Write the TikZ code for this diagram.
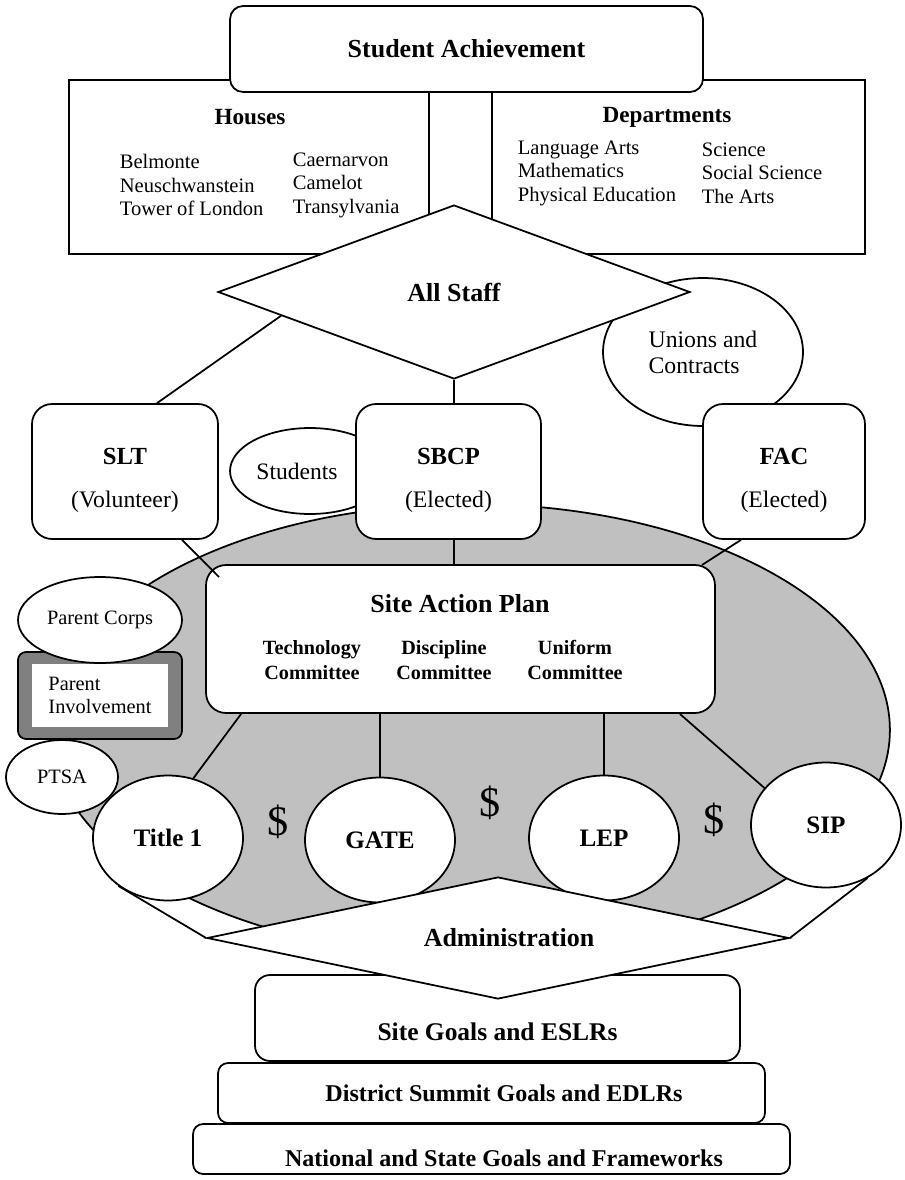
\documentclass[tikz,border=0pt]{standalone}
\usepackage{fontspec}
\setmainfont{Liberation Serif}
\usepackage{tikz}
\usetikzlibrary{shapes.geometric,calc}
\definecolor{plangray}{HTML}{C0C0C0}
\definecolor{parentgray}{HTML}{808080}

\begin{document}
\begin{tikzpicture}[x=0.02cm,y=-0.02cm,line width=1pt,
  box/.style={draw,fill=white,rounded corners=0.4cm,inner sep=0pt},
  plainbox/.style={draw,inner sep=0pt},
  oval/.style={draw,fill=white,ellipse,inner sep=0pt},
  bigfont/.style={font=\fontsize{14.8}{17.8}\selectfont\bfseries},
  headfont/.style={font=\fontsize{13.2}{16}\selectfont\bfseries},
  listfont/.style={font=\fontsize{11.7}{13.4}\selectfont,align=left,anchor=west,inner sep=0pt},
  teamfont/.style={font=\fontsize{13.5}{24.5}\selectfont,align=center},
  fundfont/.style={font=\fontsize{14.3}{17}\selectfont\bfseries},
  commfont/.style={font=\fontsize{11.5}{14.2}\selectfont\bfseries,align=center},
  smallfont/.style={font=\fontsize{11.6}{13.1}\selectfont},
  basefont/.style={font=\fontsize{13.7}{16.5}\selectfont\bfseries},
  dollarfont/.style={font=\fontsize{24}{28}\selectfont}]
  \useasboundingbox (0,0) rectangle (904,1180);
  \node[plainbox,minimum width=7.2cm,minimum height=3.48cm] (houses) at (249,167) {};
  \node[plainbox,minimum width=7.46cm,minimum height=3.48cm] (depts) at (678.5,167) {};
  \node[box,rounded corners=0.26cm,minimum width=9.46cm,minimum height=1.72cm,bigfont] (achieve) at (466.5,49) {Student Achievement};
  \node[headfont] (houseshead) at (250,117) {Houses};
  \node[listfont] (houses-l) at (119,185) {Belmonte\\Neuschwanstein\\Tower of London};
  \node[listfont] (houses-r) at (292,185) {Caernarvon\\Camelot\\Transylvania};
  \node[headfont] (deptshead) at (667,117) {Departments};
  \node[listfont] (depts-l) at (517,173) {Language Arts\\Mathematics\\Physical Education};
  \node[listfont] (depts-r) at (701,173) {Science\\Social Science\\The Arts};
  \node[oval,minimum width=4cm,minimum height=2.96cm,font=\fontsize{13.5}{14.8}\selectfont,align=left] (unions) at (703,352) {Unions and\\Contracts};
  \node[draw,fill=white,diamond,shape aspect=2.7,inner sep=0pt,minimum width=9.44cm,minimum height=3.48cm,bigfont] (staff) at (454,292) {All Staff};
  \node[oval,fill=plangray,minimum width=16.8cm,minimum height=9.04cm] (plan) at (470,730) {};
  \node[oval,minimum width=3.2cm,minimum height=1.72cm,font=\fontsize{13.4}{16}\selectfont] (students) at (310,471) {Students\hspace*{0.52cm}};
  \node[box,minimum width=3.72cm,minimum height=2.7cm,teamfont] (slt) at (125,471.5) {\rule{0pt}{19.5pt}{\fontsize{14}{24.5}\selectfont\bfseries SLT}\\(Volunteer)};
  \node[box,minimum width=3.7cm,minimum height=2.7cm,teamfont] (sbcp) at (448.5,471.5) {\rule{0pt}{19.5pt}{\fontsize{14}{24.5}\selectfont\bfseries SBCP}\\(Elected)};
  \node[box,minimum width=3.24cm,minimum height=2.7cm,teamfont] (fac) at (784,471.5) {\rule{0pt}{19.5pt}{\fontsize{14}{24.5}\selectfont\bfseries FAC}\\(Elected)};
  \draw ($(staff.west)!0.27!(staff.south)$) -- ([xshift=0.64cm]slt.north);
  \draw (staff.south) -- (staff.south |- sbcp.north);
  \node[box,minimum width=10.18cm,minimum height=2.96cm] (sap) at (460.5,639) {};
  \node[bigfont] (saptitle) at (460,604) {Site Action Plan};
  \foreach \nm/\word/\x in {tech/Technology/312,disc/Discipline/444,unif/Uniform/575}
    \node[commfont] (\nm) at (\x,660) {\word\\Committee};
  \coordinate (sap-in-l) at (219,577);
  \coordinate (sap-in-r) at (702,565);
  \draw ([xshift=1.14cm]slt.south) -- (sap-in-l);
  \draw (staff.south |- sbcp.south) -- (staff.south |- sap.north);
  \draw ([xshift=-0.86cm]fac.south) -- (sap-in-r);
  \node[draw,fill=parentgray,rounded corners=0.16cm,minimum width=3.28cm,minimum height=1.74cm] (involve) at (100,695.5) {};
  \node[fill=white,minimum width=2.72cm,minimum height=1.26cm,inner sep=0pt,smallfont,align=left] (involve-in) at (100,695.5) {Parent\\Involvement};
  \node[oval,minimum width=3.28cm,minimum height=1.72cm,smallfont] (corps) at (100,620) {Parent Corps};
  \node[oval,minimum width=2.24cm,minimum height=1.48cm,smallfont] (ptsa) at (62,777) {PTSA};
  \foreach \nm/\txt/\x/\y in {title/Title 1/168/838,gate/GATE/380/840,lep/LEP/604/838,sip/SIP/826/825}
    \node[oval,minimum width=3cm,minimum height=2.5cm,fundfont] (\nm) at (\x,\y) {\txt};
  \draw ([xshift=0.72cm]sap.south west) -- (title.67);
  \draw (gate.north |- sap.south) -- (gate.north);
  \draw (lep.north |- sap.south) -- (lep.north);
  \draw ([xshift=-0.72cm]sap.south east) -- (sip.149);
  \foreach \x/\y [count=\i] in {278/822,490/803,714/820}
    \node[dollarfont] (dollar\i) at (\x,\y) {\$};
  \node[box,rounded corners=0.2cm,minimum width=11.94cm,minimum height=1cm,basefont,text height=19.5pt,text depth=0pt] (national) at (491.5,1149) {\hspace*{0.5cm}National and State Goals and Frameworks};
  \node[box,rounded corners=0.2cm,minimum width=10.94cm,minimum height=1.2cm,basefont] (district) at (491.5,1093) {\hspace*{0.5cm}District Summit Goals and EDLRs};
  \node[box,rounded corners=0.3cm,minimum width=9.7cm,minimum height=1.72cm,font=\fontsize{14.5}{17}\selectfont\bfseries,text height=26pt,text depth=0pt] (sitegoals) at (497.5,1018) {Site Goals and ESLRs};
  \node[draw,fill=white,diamond,shape aspect=4.77,inner sep=0pt,minimum width=11.64cm,minimum height=2.44cm,bigfont] (admin) at (498,938) {\hspace*{0.44cm}Administration};
  \draw (title.224) -- (admin.west);
  \draw (sip.-52) -- (admin.east);
\end{tikzpicture}
\end{document}
